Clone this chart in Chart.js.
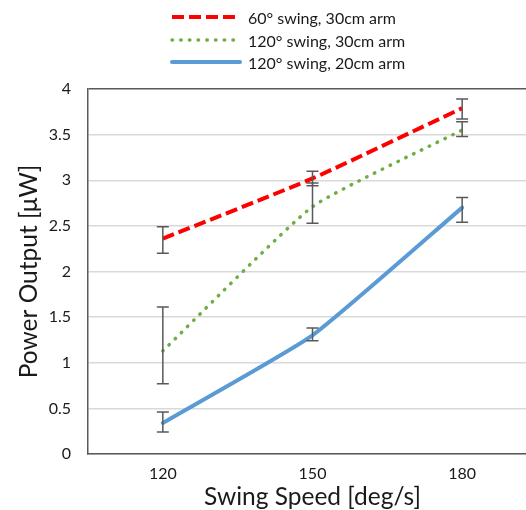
<!DOCTYPE html>
<html>
<head>
<meta charset="utf-8">
<script src="https://cdn.jsdelivr.net/npm/chart.js@4"></script>
<style>
  html, body { margin: 0; padding: 0; background: #fff; overflow: hidden; }
  #wrap { position: relative; width: 526px; height: 510px; overflow: hidden; }
  #c { position: absolute; left: 0; top: 0; }
  .leg { position: absolute; left: 170px; height: 22px; display: flex; align-items: center; font-family: Lato, "Liberation Sans", sans-serif; font-size: 16px; color: #1a1a1a; white-space: nowrap; }
  .leg svg { margin-right: 6px; }
</style>
</head>
<body>
<div id="wrap">
  <canvas id="c" width="545" height="510"></canvas>
  <div id="legend"></div>
</div>
<script>
const categories = ['120', '150', '180'];
const seriesNames = ['60° swing, 30cm arm', '120° swing, 30cm arm', '120° swing, 20cm arm'];
const red60_30 = [2.36, 3.02, 3.79];
const red60_30Low = [2.20, 2.94, 3.67];
const red60_30High = [2.49, 3.10, 3.89];
const green120_30 = [1.13, 2.71, 3.55];
const green120_30Low = [0.77, 2.53, 3.48];
const green120_30High = [1.61, 2.97, 3.64];
const blue120_20 = [0.34, 1.30, 2.70];
const blue120_20Low = [0.24, 1.24, 2.54];
const blue120_20High = [0.46, 1.38, 2.81];
const yTicks = [0, 0.5, 1, 1.5, 2, 2.5, 3, 3.5, 4];

const colors = ['#FF0000', '#70AD47', '#5B9BD5'];
const dashes = [[12, 5], [0.5, 8.2], []];
const caps = ['butt', 'round', 'round'];
const widths = [4, 3.5, 4];

// HTML legend
const legend = document.getElementById('legend');
const legendY = [6, 29, 51];
seriesNames.forEach((name, i) => {
  const d = document.createElement('div');
  d.className = 'leg';
  d.style.top = legendY[i] + 'px';
  const ns = 'http://www.w3.org/2000/svg';
  const svg = document.createElementNS(ns, 'svg');
  svg.setAttribute('width', '72'); svg.setAttribute('height', '10');
  const ln = document.createElementNS(ns, 'line');
  ln.setAttribute('x1', '2'); ln.setAttribute('x2', '70');
  ln.setAttribute('y1', '5'); ln.setAttribute('y2', '5');
  ln.setAttribute('stroke', colors[i]);
  ln.setAttribute('stroke-width', widths[i]);
  ln.setAttribute('stroke-linecap', caps[i]);
  if (dashes[i].length) ln.setAttribute('stroke-dasharray', dashes[i].join(' '));
  svg.appendChild(ln);
  d.appendChild(svg);
  const t = document.createElement('span');
  t.textContent = name;
  d.appendChild(t);
  legend.appendChild(d);
});

const errorBars = [
  { low: red60_30Low, high: red60_30High },
  { low: green120_30Low, high: green120_30High },
  { low: blue120_20Low, high: blue120_20High }
];

const errorBarPlugin = {
  id: 'errorBars',
  afterDatasetsDraw(chart) {
    const ctx = chart.ctx;
    const xs = chart.scales.x, ys = chart.scales.y;
    ctx.save();
    ctx.strokeStyle = '#595959';
    ctx.lineWidth = 1.5;
    errorBars.forEach(eb => {
      categories.forEach((c, i) => {
        const x = xs.getPixelForValue(i);
        const y1 = ys.getPixelForValue(eb.low[i]);
        const y2 = ys.getPixelForValue(eb.high[i]);
        ctx.beginPath();
        ctx.moveTo(x, y1); ctx.lineTo(x, y2);
        ctx.moveTo(x - 6, y1); ctx.lineTo(x + 6, y1);
        ctx.moveTo(x - 6, y2); ctx.lineTo(x + 6, y2);
        ctx.stroke();
      });
    });
    ctx.restore();
  }
};

const font = "Lato, 'Liberation Sans', sans-serif";
new Chart(document.getElementById('c'), {
  type: 'line',
  data: {
    labels: categories,
    datasets: [red60_30, green120_30, blue120_20].map((d, i) => ({
      label: seriesNames[i],
      data: d,
      borderColor: colors[i],
      borderWidth: widths[i],
      borderDash: dashes[i],
      borderCapStyle: caps[i],
      pointRadius: 0,
      tension: 0.15,
      fill: false
    }))
  },
  options: {
    responsive: false,
    animation: false,
    layout: { padding: { top: 89, left: 0, right: 8, bottom: 0 } },
    plugins: { legend: { display: false }, tooltip: { enabled: false } },
    scales: {
      x: {
        offset: true,
        grid: { display: false, drawTicks: false },
        border: { display: true, color: '#595959', width: 1.5 },
        ticks: { font: { family: font, size: 16 }, color: '#1a1a1a', padding: 10 },
        title: { display: true, text: 'Swing Speed [deg/s]', font: { family: font, size: 24.5 }, color: '#1a1a1a', padding: { top: 0, bottom: -2 } },
        afterFit(s) { s.height = 56; }
      },
      y: {
        min: 0, max: 4,
        afterBuildTicks(s) { s.ticks = yTicks.map(v => ({ value: v })); },
        grid: {
          drawTicks: false,
          color: ctx => (ctx.tick && ctx.tick.value === 4) ? '#595959' : '#d9d9d9',
          lineWidth: 1.5
        },
        border: { display: true, color: '#595959', width: 1.5 },
        ticks: { font: { family: font, size: 16 }, color: '#1a1a1a', padding: 17, callback: v => String(v) },
        title: { display: true, text: 'Power Output [μW]', font: { family: font, size: 24.5 }, color: '#1a1a1a', padding: { top: 14, bottom: 0 } },
        afterFit(s) { s.width = 88; }
      }
    }
  },
  plugins: [errorBarPlugin]
});
</script>
</body>
</html>
